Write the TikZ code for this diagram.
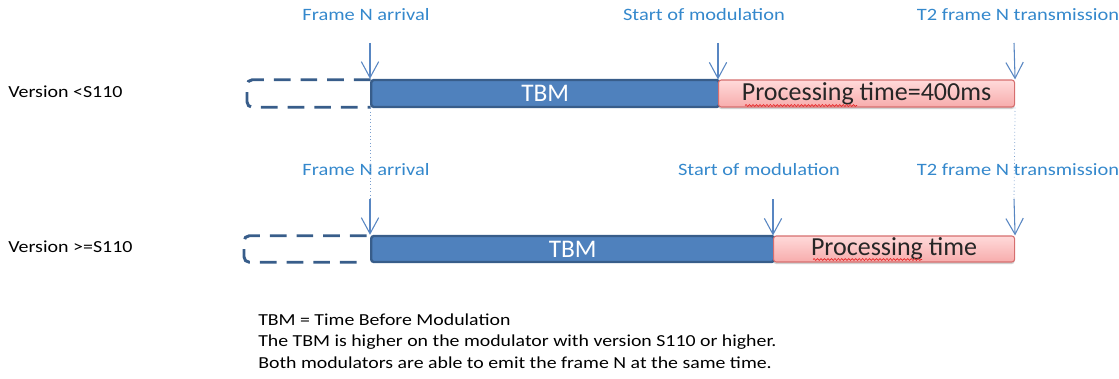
\documentclass[tikz,border=0pt]{standalone}
\usepackage{fontspec}
\setmainfont{Carlito}
\newfontfamily\widefont[FakeStretch=1.18]{Carlito}
\usetikzlibrary{arrows.meta,decorations.pathmorphing,shadows}

\definecolor{tbmfill}{RGB}{79,129,189}
\definecolor{tbmdraw}{RGB}{56,93,138}
\definecolor{proctop}{RGB}{255,218,218}
\definecolor{procbot}{RGB}{247,172,172}
\definecolor{procdraw}{RGB}{214,110,110}
\definecolor{evtblue}{RGB}{52,136,204}
\definecolor{arrowblue}{RGB}{88,134,194}
\definecolor{squig}{RGB}{230,40,40}

\tikzset{
  bar/.style={rectangle, inner sep=0pt, anchor=west, rounded corners=2pt},
  tbmbar/.style={bar, fill=tbmfill, draw=tbmdraw, line width=1.8pt,
    text=white, font=\fontsize{19}{22}\selectfont},
  procbar/.style={bar, top color=proctop, bottom color=procbot, draw=procdraw,
    line width=0.8pt, text=black!85, font=\fontsize{19.5}{22}\selectfont,
    drop shadow={shadow xshift=0pt, shadow yshift=-1.5pt, opacity=0.18, fill=black}},
  ghostbar/.style={bar, draw=none},
  ghostline/.style={draw=tbmdraw, line width=2.2pt, dash pattern=on 12.5pt off 7.5pt,
    rounded corners=4pt},
  evtlabel/.style={text=evtblue, font=\widefont\fontsize{13}{15}\selectfont, inner sep=0pt},
  verlabel/.style={text=black, font=\widefont\fontsize{12.7}{15}\selectfont, inner sep=0pt, anchor=west},
  evtarrow/.style={draw=arrowblue, line width=0.8pt,
    -{Straight Barb[length=12pt,width=13pt,line width=0.8pt]}},
  guide/.style={draw=arrowblue!80, line width=0.6pt, dotted},
  spell/.style={draw=squig, line width=0.5pt,
    decorate, decoration={snake, amplitude=0.7pt, segment length=2.6pt}}
}

\begin{document}
\begin{tikzpicture}[x=0.75pt,y=-0.75pt]
\useasboundingbox (0,0) rectangle (1119,378);

% version labels
\node[verlabel] (verA) at (8,92) {Version <S110};
\node[verlabel] (verB) at (8,247) {Version >=S110};

% first timeline
\node[ghostbar, minimum width=123*0.75pt, minimum height=27*0.75pt] (ghostA) at (247,93.5) {};
\node[tbmbar, minimum width=348*0.75pt, minimum height=27*0.75pt] (tbmA) at (370,93.5) {TBM};
\node[procbar, minimum width=296*0.75pt, minimum height=27*0.75pt] (procA) at (718,93.5) {Processing time=400ms};
\draw[ghostline] (ghostA.north east) -- (ghostA.north west) -- (ghostA.south west) -- (ghostA.south east);

% second timeline
\node[ghostbar, minimum width=122*0.75pt, minimum height=26*0.75pt] (ghostB) at (244,249) {};
\node[tbmbar, minimum width=403*0.75pt, minimum height=26*0.75pt] (tbmB) at (370,249) {TBM};
\node[procbar, minimum width=241*0.75pt, minimum height=26*0.75pt] (procB) at (773,249) {Processing time};
\draw[ghostline] (ghostB.north east) -- (ghostB.north west) -- (ghostB.south west) -- (ghostB.south east);

% event labels
\node[evtlabel] (arrA) at (366,15) {Frame N arrival};
\node[evtlabel] (modA) at (704,15) {Start of modulation};
\node[evtlabel] (txA) at (1018,15) {T2 frame N transmission};
\node[evtlabel] (arrB) at (366,170) {Frame N arrival};
\node[evtlabel] (modB) at (759,170) {Start of modulation};
\node[evtlabel] (txB) at (1018,170) {T2 frame N transmission};

% arrow tails
\coordinate (arrAs) at (370,43);
\coordinate (modAs) at (718,43);
\coordinate (txAs) at (1014,43);
\coordinate (arrBs) at (370,199);
\coordinate (modBs) at (773,199);
\coordinate (txBs) at (1014,199);

% event arrows
\draw[evtarrow] (arrAs) -- (tbmA.north west);
\draw[evtarrow] (modAs) -- (procA.north west);
\draw[evtarrow] (txAs) -- (procA.north east);
\draw[evtarrow] (arrBs) -- (tbmB.north west);
\draw[evtarrow] (modBs) -- (procB.north west);
\draw[evtarrow] (txBs) -- (procB.north east);

% guides between the two timelines
\draw[guide] (tbmA.south west) -- (arrBs);
\draw[guide] (procA.south east) -- (txBs);

% spelling underline
\draw[spell] (745,105.5) -- (857,105.5);
\draw[spell] (813,259.5) -- (922,259.5);

% notes
\node[inner sep=0pt, anchor=north west, align=left, font=\widefont\fontsize{12.6}{16}\selectfont] (notes) at (258,313.5)
  {TBM = Time Before Modulation\\
   The TBM is higher on the modulator with version S110 or higher.\\
   Both modulators are able to emit the frame N at the same time.};
\end{tikzpicture}
\end{document}
